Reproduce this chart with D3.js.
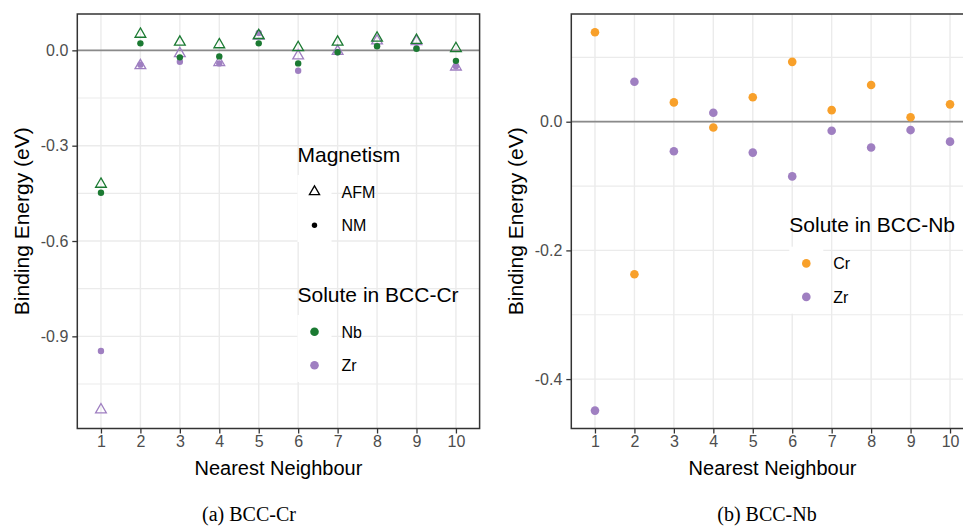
<!DOCTYPE html>
<html>
<head>
<meta charset="utf-8">
<script src="https://cdn.jsdelivr.net/npm/d3@7"></script>
<style>
  body { margin: 0; background: #fff; }
  text { font-family: "Liberation Sans", Arial, sans-serif; }
</style>
</head>
<body>
<div id="chart"></div>
<script>
// Nearest neighbour shells
const neighbours = [1, 2, 3, 4, 5, 6, 7, 8, 9, 10];

// Panel (a): solutes in BCC-Cr, two magnetic states
const nbAFM = [-0.421, 0.051, 0.026, 0.018, 0.047, 0.009, 0.026, 0.039, 0.032, 0.006];
const nbNM  = [-0.448, 0.022, -0.022, -0.019, 0.022, -0.041, -0.006, 0.013, 0.005, -0.033];
const zrAFM = [-1.131, -0.048, -0.010, -0.038, 0.045, -0.017, -0.003, 0.030, 0.028, -0.052];
const zrNM  = [-0.946, -0.045, -0.036, -0.041, 0.055, -0.064, -0.006, 0.014, 0.007, -0.050];

// Panel (b): solutes in BCC-Nb
const crInNb = [0.139, -0.237, 0.030, -0.009, 0.038, 0.093, 0.018, 0.057, 0.007, 0.027];
const zrInNb = [-0.449, 0.062, -0.046, 0.014, -0.048, -0.085, -0.014, -0.040, -0.013, -0.031];

// Axis ticks
const crTicks = [0.0, -0.3, -0.6, -0.9];
const crMinor = [-0.15, -0.45, -0.75, -1.05];
const nbTicks = [0.0, -0.2, -0.4];
const nbMinor = [0.1, -0.1, -0.3];

const colours = {Nb: "#1b7a32", Zr: "#9f7fc1", Cr: "#f8a02a"};

const svg = d3.select("#chart")
    .append("svg")
    .attr("width", 963)
    .attr("height", 526);

const panelTop = 14, panelBottom = 428.5;

function drawPanel(o) {
    const x = d3.scaleLinear().domain([0.4, 10.6]).range([o.x0, o.x1]);
    const y = d3.scaleLinear().domain(o.yDomain).range([panelBottom, panelTop]);
    const g = svg.append("g");

    // grid
    g.selectAll(".minor").data(o.minor).enter().append("line")
        .attr("x1", o.x0).attr("x2", o.x1)
        .attr("y1", d => y(d)).attr("y2", d => y(d))
        .attr("stroke", "#ebebeb").attr("stroke-width", 1.2);
    g.selectAll(".major").data(o.ticks).enter().append("line")
        .attr("x1", o.x0).attr("x2", o.x1)
        .attr("y1", d => y(d)).attr("y2", d => y(d))
        .attr("stroke", "#ebebeb").attr("stroke-width", 1.4);
    g.selectAll(".vgrid").data(neighbours).enter().append("line")
        .attr("x1", d => x(d)).attr("x2", d => x(d))
        .attr("y1", panelTop).attr("y2", panelBottom)
        .attr("stroke", "#ebebeb").attr("stroke-width", 1.4);

    // zero line
    g.append("line")
        .attr("x1", o.x0).attr("x2", o.x1)
        .attr("y1", y(0)).attr("y2", y(0))
        .attr("stroke", "#8a8a8a").attr("stroke-width", 1.8);

    o.series.forEach(s => {
        if (s.shape === "triangle") {
            g.selectAll(null).data(s.values).enter().append("path")
                .attr("d", d3.symbol(d3.symbolTriangle, 50))
                .attr("transform", (d, i) => `translate(${x(neighbours[i])},${y(d)})`)
                .attr("fill", "none")
                .attr("stroke", s.colour)
                .attr("stroke-width", 1.3);
        } else {
            g.selectAll(null).data(s.values).enter().append("circle")
                .attr("cx", (d, i) => x(neighbours[i]))
                .attr("cy", d => y(d))
                .attr("r", s.r)
                .attr("fill", s.colour);
        }
    });

    // border
    g.append("rect")
        .attr("x", o.x0).attr("y", panelTop)
        .attr("width", o.x1 - o.x0).attr("height", panelBottom - panelTop)
        .attr("fill", "none").attr("stroke", "#333").attr("stroke-width", 1.5);

    // axes
    const ya = g.append("g")
        .attr("transform", `translate(${o.x0},0)`)
        .call(d3.axisLeft(y).tickValues(o.ticks).tickSize(5).tickPadding(4)
            .tickFormat(d => d.toFixed(1)));
    const xa = g.append("g")
        .attr("transform", `translate(0,${panelBottom})`)
        .call(d3.axisBottom(x).tickValues(neighbours).tickSize(5).tickPadding(2)
            .tickFormat(d3.format("d")));
    [ya, xa].forEach(a => {
        a.select(".domain").remove();
        a.selectAll(".tick line").attr("stroke", "#333").attr("stroke-width", 1.3);
        a.selectAll(".tick text").attr("fill", "#4d4d4d")
            .style("font-size", "16px")
            .style("font-family", "Liberation Sans, Arial, sans-serif");
    });

    // titles
    g.append("text")
        .attr("transform", `translate(${o.yTitleX},${(panelTop + panelBottom) / 2}) rotate(-90)`)
        .attr("text-anchor", "middle")
        .style("font-size", "21px")
        .text("Binding Energy (eV)");
    g.append("text")
        .attr("x", (o.x0 + o.x1) / 2).attr("y", 475)
        .attr("text-anchor", "middle")
        .style("font-size", "20px")
        .text("Nearest Neighbour");
    g.append("text")
        .attr("x", o.captionX).attr("y", 521)
        .attr("text-anchor", "middle")
        .style("font-family", "Liberation Serif, 'Times New Roman', serif")
        .style("font-size", "20px")
        .text(o.caption);
}

drawPanel({
    x0: 77.3, x1: 479.6,
    yDomain: [-1.190, 0.1144],
    ticks: crTicks, minor: crMinor,
    yTitleX: 29, captionX: 249, caption: "(a) BCC-Cr",
    series: [
        {values: zrAFM, colour: colours.Zr, shape: "triangle"},
        {values: zrNM, colour: colours.Zr, shape: "dot", r: 3.2},
        {values: nbAFM, colour: colours.Nb, shape: "triangle"},
        {values: nbNM, colour: colours.Nb, shape: "dot", r: 3.2}
    ]
});

drawPanel({
    x0: 571.3, x1: 973.7,
    yDomain: [-0.4768, 0.1674],
    ticks: nbTicks, minor: nbMinor,
    yTitleX: 523, captionX: 767, caption: "(b) BCC-Nb",
    series: [
        {values: crInNb, colour: colours.Cr, shape: "dot", r: 4.3},
        {values: zrInNb, colour: colours.Zr, shape: "dot", r: 4.3}
    ]
});

// legends
function legend(x, titleY, boxY, title, items) {
    const g = svg.append("g");
    g.append("text").attr("x", x).attr("y", titleY)
        .style("font-size", "21px").text(title);
    g.append("rect").attr("x", x).attr("y", boxY)
        .attr("width", 34).attr("height", 33.5 * items.length)
        .attr("fill", "#fff");
    items.forEach((it, i) => {
        const cy = boxY + 16.7 + i * 33.5;
        if (it.shape === "triangle") {
            g.append("path")
                .attr("d", d3.symbol(d3.symbolTriangle, 45))
                .attr("transform", `translate(${x + 17},${cy})`)
                .attr("fill", "none").attr("stroke", it.colour).attr("stroke-width", 1.3);
        } else {
            g.append("circle").attr("cx", x + 17).attr("cy", cy)
                .attr("r", it.r).attr("fill", it.colour);
        }
        g.append("text").attr("x", x + 44).attr("y", cy + 6)
            .style("font-size", "16px").text(it.label);
    });
}

legend(297.5, 162, 175, "Magnetism", [
    {label: "AFM", shape: "triangle", colour: "#000"},
    {label: "NM", shape: "dot", colour: "#000", r: 2.7}
]);
legend(297.5, 302, 315, "Solute in BCC-Cr", [
    {label: "Nb", shape: "dot", colour: colours.Nb, r: 4.3},
    {label: "Zr", shape: "dot", colour: colours.Zr, r: 4.3}
]);
legend(789.3, 232, 246.7, "Solute in BCC-Nb", [
    {label: "Cr", shape: "dot", colour: colours.Cr, r: 4.3},
    {label: "Zr", shape: "dot", colour: colours.Zr, r: 4.3}
]);
</script>
</body>
</html>
